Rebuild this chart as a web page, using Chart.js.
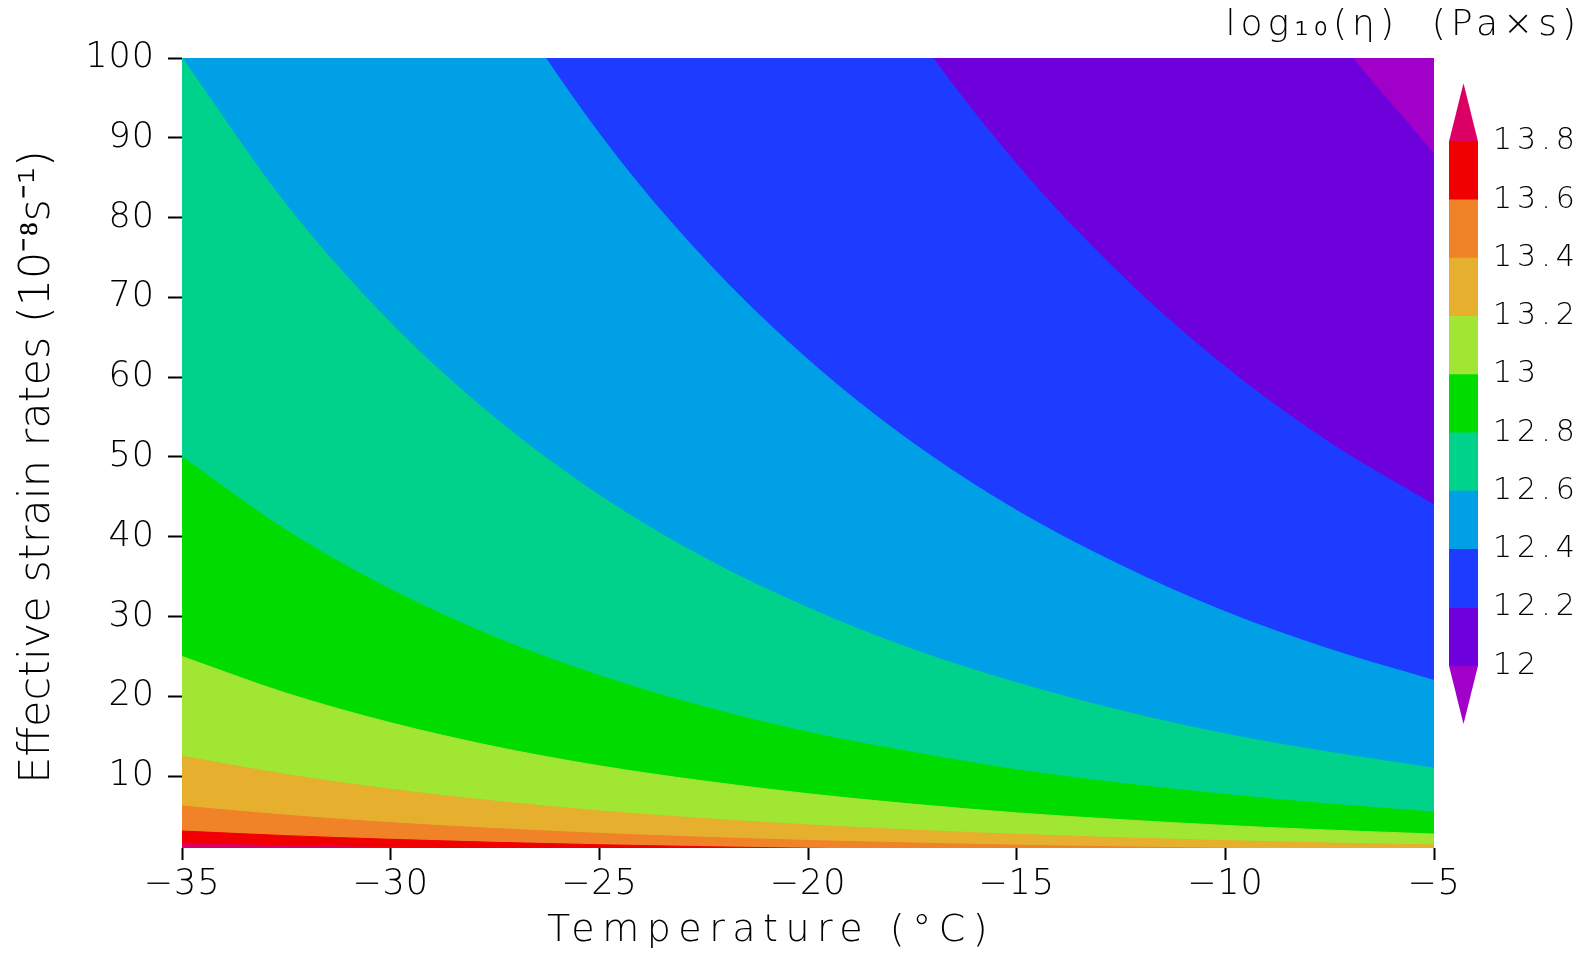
<!DOCTYPE html>
<html lang="en">
<head>
  <meta charset="UTF-8" />
  <title>Ice viscosity vs temperature and strain rate</title>
  <script src="https://cdn.jsdelivr.net/npm/chart.js"></script>
  <style>
    html, body { margin: 0; padding: 0; background: #fff; }
    #wrap { position: relative; width: 1591px; height: 953px; }
    #main { position: absolute; left: 0; top: 0; }
    #bar { position: absolute; left: 1150px; top: 0; }
  </style>
</head>
<body>
  <div id="wrap">
    <canvas id="main" width="1591" height="953"></canvas>
    <canvas id="bar" width="441" height="760"></canvas>
  </div>

  <script>
    // temperature (°C) columns where the contour edges were read
    const temperatures = [-35, -32.5, -30, -27.5, -25, -22.5, -20, -17.5, -15, -12.5, -10, -7.5, -5];

    // strain rate (10^-8 s^-1) at which log10(eta) crosses each level
    const level120 = [800, 653, 534, 439, 362, 299, 249, 207, 173, 146, 123, 103.7, 88];
    const level122 = [400, 326, 267, 219, 181, 150, 124, 103.6, 86.7, 72.8, 61.3, 51.8, 44];
    const level124 = [200, 163, 134, 110, 90.5, 74.9, 62.2, 51.8, 43.3, 36.4, 30.6, 25.9, 22];
    const level126 = [100, 81.6, 66.8, 54.9, 45.2, 37.4, 31.1, 25.9, 21.7, 18.2, 15.3, 13, 11];
    const level128 = [50, 40.8, 33.4, 27.4, 22.6, 18.7, 15.5, 13, 10.8, 9.1, 7.7, 6.5, 5.5];
    const level130 = [25, 20.4, 16.7, 13.7, 11.3, 9.4, 7.8, 6.5, 5.4, 4.55, 3.83, 3.24, 2.75];
    const level132 = [12.5, 10.2, 8.35, 6.86, 5.65, 4.68, 3.89, 3.24, 2.71, 2.27, 1.92, 1.62, 1.38];
    const level134 = [6.25, 5.1, 4.17, 3.43, 2.83, 2.34, 1.94, 1.62, 1.35, 1.14, 0.96, 0.81, 0.69];
    const level136 = [3.13, 2.55, 2.09, 1.71, 1.41, 1.17, 0.97, 0.81, 0.68, 0.57, 0.48, 0.41, 0.34];
    const level138 = [1.56, 1.27, 1.04, 0.86, 0.71, 0.58, 0.49, 0.4, 0.34, 0.28, 0.24, 0.2, 0.17];

    const levels = [12, 12.2, 12.4, 12.6, 12.8, 13, 13.2, 13.4, 13.6, 13.8];
    const edges = [level120, level122, level124, level126, level128, level130, level132, level134, level136, level138];

    // band colours, 12-12.2 up to 13.6-13.8
    const bandColors = ['rgb(110,0,220)', 'rgb(30,60,255)', 'rgb(0,160,230)', 'rgb(0,210,140)', 'rgb(0,220,0)',
                        'rgb(160,230,50)', 'rgb(230,175,45)', 'rgb(240,130,40)', 'rgb(240,0,0)'];
    const belowColor = 'rgb(160,0,200)';
    const aboveColor = 'rgb(220,0,100)';

    const xTicks = [-35, -30, -25, -20, -15, -10, -5];
    const yTicks = [10, 20, 30, 40, 50, 60, 70, 80, 90, 100];

    const FONT = '"DejaVu Sans Light", "DejaVu Sans"';
    const W = 200;

    // Chart.js has no letter spacing option, so wrap the text drawing calls
    function spaceText(target, method, px, dx, dy, widen) {
      const orig = target[method];
      target[method] = function (...args) {
        const ctx = this.ctx;
        const left = this.left;
        if (widen) this.left = 0;
        ctx.save();
        ctx.letterSpacing = px + 'px';
        ctx.translate(dx, dy);
        orig.apply(this, args);
        ctx.restore();
        this.left = left;
      };
    }

    const mainText = {
      id: 'mainText',
      afterLayout(chart) {
        if (chart.$spaced) return;
        chart.$spaced = true;
        spaceText(chart.scales.x, 'drawLabels', 1, 0, 0);
        spaceText(chart.scales.x, 'drawTitle', 7.5, -37, 1);
        spaceText(chart.scales.y, 'drawLabels', 1, 0, 0);
        spaceText(chart.scales.y, 'drawTitle', 0, 0, 14);
      }
    };

    const plotBackground = {
      id: 'plotBackground',
      beforeDatasetsDraw(chart) {
        const { ctx, chartArea: a } = chart;
        ctx.save();
        ctx.fillStyle = belowColor;
        ctx.fillRect(a.left, a.top, a.right - a.left, a.bottom - a.top);
        ctx.restore();
      }
    };

    // each edge fills down to the axis with the colour of the band under it
    const datasets = edges.map((vals, i) => {
      const color = i < bandColors.length ? bandColors[i] : aboveColor;
      return {
        data: temperatures.map((t, j) => ({ x: t, y: vals[j] })),
        fill: 'start',
        backgroundColor: color,
        borderColor: color,
        borderWidth: 1,
        pointRadius: 0,
        cubicInterpolationMode: 'monotone',
        order: 100 - i
      };
    });

    new Chart(document.getElementById('main'), {
      type: 'line',
      data: { datasets },
      options: {
        responsive: false,
        animation: false,
        layout: { padding: { left: 0, top: 58, right: 157, bottom: 0 } },
        plugins: { legend: { display: false }, tooltip: { enabled: false } },
        scales: {
          x: {
            type: 'linear',
            min: xTicks[0],
            max: xTicks[xTicks.length - 1],
            afterBuildTicks: s => { s.ticks = xTicks.map(v => ({ value: v })); },
            afterFit: s => { s.height = 105; },
            border: { display: false },
            grid: { drawOnChartArea: false, tickLength: 12, tickWidth: 2, tickColor: '#000' },
            ticks: {
              color: '#000', padding: 4, maxRotation: 0,
              font: { family: FONT, size: 35, weight: W },
              callback: v => v < 0 ? '\u2212' + Math.abs(v) : String(v)
            },
            title: {
              display: true, text: 'Temperature (°C)', color: '#000',
              font: { family: FONT, size: 38, weight: W }, padding: { top: 0, bottom: 0 }
            }
          },
          y: {
            type: 'linear',
            min: 1,
            max: 100,
            afterBuildTicks: s => { s.ticks = yTicks.map(v => ({ value: v })); },
            afterFit: s => { s.width = 182; },
            border: { display: false },
            grid: { drawOnChartArea: false, tickLength: 14, tickWidth: 2, tickColor: '#000' },
            ticks: { color: '#000', padding: 13, font: { family: FONT, size: 35, weight: W } },
            title: {
              display: true, text: 'Effective strain rates (10⁻⁸s⁻¹)', color: '#000',
              font: { family: FONT, size: 43, weight: W }, padding: { top: 12, bottom: 0 }
            }
          }
        }
      },
      plugins: [plotBackground, mainText]
    });

    // colour bar
    const barText = {
      id: 'barText',
      afterLayout(chart) {
        if (chart.$spaced) return;
        chart.$spaced = true;
        spaceText(chart.scales.y, 'drawLabels', 5, 0, 0);
        spaceText(chart.titleBlock, 'draw', 5, 0, 0, true);
      }
    };

    const barEnds = {
      id: 'barEnds',
      afterDatasetsDraw(chart) {
        const { ctx, scales: { y } } = chart;
        const bar = chart.getDatasetMeta(0).data[0];
        const half = bar.width / 2;
        const lo = levels[0], hi = levels[levels.length - 1];
        const step = levels[1] - levels[0];
        [[lo, lo - step, belowColor], [hi, hi + step, aboveColor]].forEach(([base, tip, color]) => {
          ctx.beginPath();
          ctx.moveTo(bar.x - half, y.getPixelForValue(base));
          ctx.lineTo(bar.x + half, y.getPixelForValue(base));
          ctx.lineTo(bar.x, y.getPixelForValue(tip));
          ctx.closePath();
          ctx.fillStyle = color;
          ctx.fill();
        });
      }
    };

    new Chart(document.getElementById('bar'), {
      type: 'bar',
      data: {
        labels: [''],
        datasets: bandColors.map((c, i) => ({
          data: [[levels[i], levels[i + 1]]],
          backgroundColor: c,
          borderWidth: 0,
          barPercentage: 1,
          categoryPercentage: 1,
          grouped: false
        }))
      },
      options: {
        responsive: false,
        animation: false,
        layout: { padding: { left: 299, top: 0, right: 10, bottom: 36 } },
        plugins: {
          legend: { display: false },
          tooltip: { enabled: false },
          title: {
            display: true, text: 'log₁₀(η)  (Pa×s)', align: 'end', color: '#000',
            font: { family: FONT, size: 36, weight: W }, padding: { top: 4, bottom: 36 }
          }
        },
        scales: {
          x: { display: false },
          y: {
            position: 'right',
            min: levels[0] - 0.2,
            max: levels[levels.length - 1] + 0.2,
            afterBuildTicks: s => { s.ticks = levels.map(v => ({ value: v })); },
            afterFit: s => { s.width = 103; },
            grid: { display: false },
            border: { display: false },
            ticks: {
              color: '#000', padding: 7, font: { family: FONT, size: 30, weight: W },
              callback: v => String(+v.toFixed(1))
            }
          }
        }
      },
      plugins: [barEnds, barText]
    });
  </script>
</body>
</html>
